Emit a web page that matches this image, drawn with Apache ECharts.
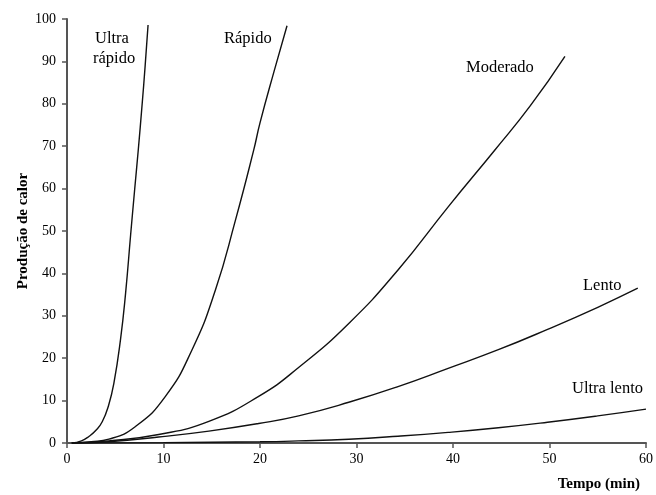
<!DOCTYPE html>
<html><head><meta charset="utf-8">
<script src="https://cdn.jsdelivr.net/npm/echarts@6/dist/echarts.min.js"></script>
<style>html,body{margin:0;padding:0;background:#fff}#c{width:656px;height:495px}</style>
</head><body><div id="c"></div>
<script>
const xTicks = [0,10,20,30,40,50,60];
const yTicks = [0,10,20,30,40,50,60,70,80,90,100];
const ultraRapido = [[0.5,0],[1.5,0.5],[2.3,1.6],[3.0,3.0],[3.65,5.0],[4.3,8.8],[4.86,14.1],[5.55,24.5],[6.07,35.3],[6.59,49.0],[7.0,59.5],[7.38,69.0],[7.79,80.0],[8.1,89],[8.4,98.6]];
const rapido = [[0.5,0],[2.5,0.3],[4.34,0.9],[7.1,3.9],[10.2,11.0],[12.96,22.0],[15.38,36.1],[17.45,52.5],[19.34,69.0],[20.0,75.5],[21.5,88],[22.8,98.4]];
const moderado = [[0.5,0],[4.3,0.5],[9.5,2.0],[14.7,5.1],[19.86,11.0],[24.0,17.8],[29.2,28.2],[34.3,40.8],[39.5,55.7],[44.3,69.0],[48.0,79.5],[51.6,91.2]];
const lento = [[0.5,0],[4.3,0.3],[9.5,1.4],[14.7,2.8],[19.86,4.6],[24.0,6.4],[29.2,9.6],[34.3,13.3],[39.5,17.6],[44.7,22.0],[49.8,26.8],[55.0,32.0],[59.15,36.5]];
const ultraLento = [[0.5,0],[10,0.1],[20,0.3],[24.0,0.5],[29.2,0.9],[34.3,1.6],[39.5,2.5],[44.7,3.6],[49.8,4.9],[55.0,6.4],[60,8.0]];
const seriesNames = ['Ultra rápido','Rápido','Moderado','Lento','Ultra lento'];
const xName = 'Tempo (min)';
const yName = 'Produção de calor';

const serif = '"Liberation Serif","DejaVu Serif",serif';
const chart = echarts.init(document.getElementById('c'));
const mk = (name, data) => ({
  name, type:'line', data, smooth:0.5, symbol:'none',
  lineStyle:{color:'#111', width:1.4}
});
chart.setOption({
  animation:false,
  grid:{left:67,right:6,top:19,bottom:52,containLabel:false},
  xAxis:{type:'value',min:0,max:60,interval:10,
    name:xName,nameLocation:'end',nameGap:0,
    nameTextStyle:{fontFamily:serif,fontWeight:'bold',fontSize:15,color:'#000',align:'right',verticalAlign:'top',padding:[34,6,0,0]},
    axisLine:{show:true,lineStyle:{color:'#555',width:2}},
    axisTick:{show:true,inside:false,length:5,lineStyle:{color:'#555',width:1.5}},
    axisLabel:{fontFamily:serif,fontSize:14,color:'#000',margin:9},
    splitLine:{show:false}},
  yAxis:{type:'value',min:0,max:100,interval:10,
    name:yName,nameLocation:'middle',nameGap:36,nameRotate:90,nameMoveOverlap:false,
    nameTextStyle:{fontFamily:serif,fontWeight:'bold',fontSize:15,color:'#000'},
    axisLine:{show:true,lineStyle:{color:'#555',width:2}},
    axisTick:{show:true,inside:false,length:5,lineStyle:{color:'#555',width:1.5}},
    axisLabel:{fontFamily:serif,fontSize:14,color:'#000',margin:11},
    splitLine:{show:false}},
  series:[mk(seriesNames[0],ultraRapido),mk(seriesNames[1],rapido),mk(seriesNames[2],moderado),mk(seriesNames[3],lento),mk(seriesNames[4],ultraLento)],
  graphic:[
    {type:'text',left:95,top:30,style:{text:'Ultra',font:'16.5px '+serif,fill:'#000'}},
    {type:'text',left:93,top:50,style:{text:'rápido',font:'16.5px '+serif,fill:'#000'}},
    {type:'text',left:224,top:30,style:{text:'Rápido',font:'16.5px '+serif,fill:'#000'}},
    {type:'text',left:466,top:59,style:{text:'Moderado',font:'16.5px '+serif,fill:'#000'}},
    {type:'text',left:583,top:277,style:{text:'Lento',font:'16.5px '+serif,fill:'#000'}},
    {type:'text',left:572,top:380,style:{text:'Ultra lento',font:'16.5px '+serif,fill:'#000'}}
  ]
});
</script></body></html>
